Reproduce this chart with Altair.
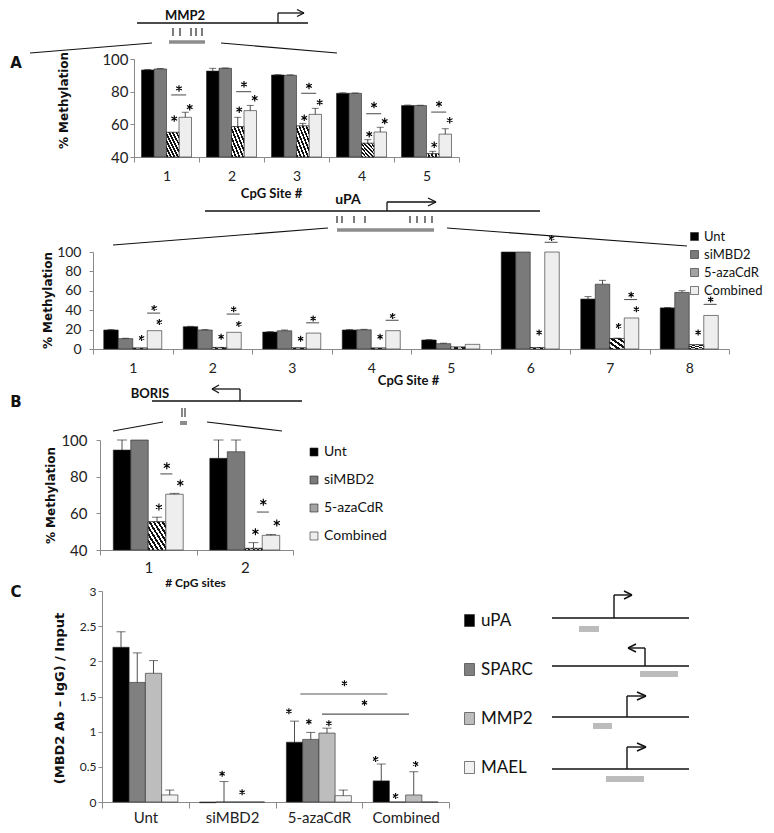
import altair as alt
import pandas as pd

CHART_W, CHART_H = 758, 817
MARGIN = 8

GROUPS = ["Unt", "siMBD2", "5-azaCdR", "Combined"]
GROUP_FILL = ["#000000", "#7a7a7a", "#a3a3a3", "#eeeeee"]

# ---------------- Panel A : MMP2 ----------------
A_SITES = ["1", "2", "3", "4", "5"]
A_UNT = [93.3, 92.6, 90.2, 79.0, 71.5]
A_SI = [93.9, 94.3, 90.0, 79.0, 71.5]
A_AZA = [55.1, 58.6, 59.0, 48.4, 42.0]
A_COMB = [64.3, 68.4, 66.1, 55.3, 54.0]
A_UNT_ERR = [0.3, 1.7, 0.2, 0.3, 0.3]
A_SI_ERR = [0.3, 0.2, 0.3, 0.2, 0.2]
A_AZA_ERR = [0.0, 5.7, 1.6, 2.2, 1.5]
A_COMB_ERR = [3.1, 3.2, 3.7, 2.9, 3.3]
A_STAR_SITE = ["1", "1", "2", "2", "3", "3", "4", "4", "5", "5"]
A_STAR_GROUP = ["5-azaCdR", "Combined"] * 5
A_STAR_Y = [63.5, 70.5, 69.0, 76.0, 64.0, 73.5, 54.0, 62.0, 47.5, 62.5]
A_BR_Y = [78.0, 80.0, 79.0, 66.5, 67.5]
A_BR_STAR_Y = [82.0, 84.5, 83.5, 71.8, 72.5]

# ---------------- uPA ----------------
U_SITES = ["1", "2", "3", "4", "5", "6", "7", "8"]
U_UNT = [19.6, 23.0, 17.5, 19.6, 9.3, 100, 51.5, 42.4]
U_SI = [10.7, 19.6, 18.8, 19.8, 5.5, 100, 66.8, 58.3]
U_AZA = [1.0, 1.6, 1.2, 1.0, 2.0, 1.5, 10.8, 4.4]
U_COMB = [18.9, 17.2, 16.4, 18.9, 4.8, 100, 32.0, 34.6]
U_UNT_ERR = [0.4, 0.4, 0.4, 0.4, 0.4, 0.0, 2.5, 0.4]
U_SI_ERR = [0.4, 0.4, 0.8, 0.5, 0.5, 0.0, 4.0, 1.8]
U_AZA_ERR = [0.0, 0.0, 0.0, 0.0, 0.0, 0.0, 0.4, 0.0]
U_COMB_ERR = [0.0, 0.0, 0.0, 0.0, 0.0, 0.0, 0.0, 0.0]
U_STAR_SITE = ["1", "1", "2", "2", "3", "4", "6", "7", "7", "8"]
U_STAR_GROUP = ["5-azaCdR", "Combined", "5-azaCdR", "Combined", "5-azaCdR",
                "5-azaCdR", "5-azaCdR", "5-azaCdR", "Combined", "5-azaCdR"]
U_STAR_Y = [11.3, 27.8, 12.7, 25.8, 10.5, 12.7, 17.0, 23.7, 41.0, 17.0]
U_BR_SITE = ["1", "2", "3", "4", "6", "7", "8"]
U_BR_Y = [37.0, 36.0, 27.0, 29.6, 110.0, 51.0, 46.0]
U_BR_STAR_Y = [42.3, 41.0, 31.5, 34.0, 114.5, 56.0, 51.0]

# ---------------- Panel B : BORIS ----------------
B_SITES = ["1", "2"]
B_UNT = [94.5, 90.0]
B_SI = [100.0, 93.6]
B_AZA = [55.4, 40.9]
B_COMB = [70.4, 48.0]
B_UNT_ERR = [5.5, 10.0]
B_SI_ERR = [0.0, 6.4]
B_AZA_ERR = [2.5, 3.1]
B_COMB_ERR = [0.5, 0.5]
B_STAR_SITE = ["1", "1", "2", "2"]
B_STAR_GROUP = ["5-azaCdR", "Combined", "5-azaCdR", "Combined"]
B_STAR_Y = [63.5, 76.5, 50.0, 54.7]
B_BR_Y = [81.5, 60.7]
B_BR_STAR_Y = [86.0, 66.0]

# ---------------- Panel C : ChIP ----------------
C_TREAT = ["Unt", "siMBD2", "5-azaCdR", "Combined"]
GENES = ["uPA", "SPARC", "MMP2", "MAEL"]
GENE_FILL = ["#000000", "#808080", "#bdbdbd", "#f2f2f2"]
C_UPA = [2.20, -0.01, 0.85, 0.30]
C_SPARC = [1.70, 0.0, 0.89, 0.0]
C_MMP2 = [1.83, 0.0, 0.98, 0.10]
C_MAEL = [0.10, 0.0, 0.09, 0.0]
C_UPA_ERR = [0.22, 0.0, 0.30, 0.24]
C_SPARC_ERR = [0.42, 0.29, 0.10, 0.0]
C_MMP2_ERR = [0.18, 0.0, 0.07, 0.33]
C_MAEL_ERR = [0.07, 0.0, 0.08, 0.0]
C_STAR_TREAT = ["siMBD2", "siMBD2", "5-azaCdR", "5-azaCdR", "5-azaCdR",
                "Combined", "Combined", "Combined"]
C_STAR_GENE = ["SPARC", "MMP2", "uPA", "SPARC", "MMP2", "uPA", "SPARC", "MMP2"]
C_STAR_Y = [0.40, 0.14, 1.29, 1.14, 1.12, 0.61, 0.085, 0.54]
C_BR1_Y, C_BR1_STAR_Y = [1.535], [1.69]
C_BR2_Y, C_BR2_STAR_Y = [1.25], [1.41]

# ---------------- gene schematics (page pixel units) ----------------
INK, GREY_A, GREY_C = "#111111", "#8c8c8c", "#bcbcbc"
A_DIAGRAM = [
    (137, 23, 308, 23, 1.3, INK), (278, 23, 278, 13, 1.3, INK), (278, 13, 304, 13, 1.3, INK),
    (297, 9.5, 304, 13, 1.3, INK), (297, 16.5, 304, 13, 1.3, INK),
    (173, 28, 173, 36, 1.1, INK), (180, 28, 180, 36, 1.1, INK), (191, 28, 191, 36, 1.1, INK),
    (196, 28, 196, 36, 1.1, INK), (202, 28, 202, 36, 1.1, INK),
    (169, 42, 205, 42, 3.5, GREY_A),
    (30, 53, 152, 43, 1.1, INK), (221, 43, 337, 53, 1.1, INK),
]
U_DIAGRAM = [
    (205, 211, 540, 211, 1.3, INK), (387, 211, 387, 202, 1.3, INK), (387, 202, 436, 202, 1.3, INK),
    (428, 198, 436, 202, 1.3, INK), (428, 206, 436, 202, 1.3, INK),
    (337, 216, 337, 223, 1.1, INK), (342, 216, 342, 223, 1.1, INK), (354, 216, 354, 223, 1.1, INK),
    (365, 216, 365, 223, 1.1, INK), (410, 216, 410, 223, 1.1, INK), (417, 216, 417, 223, 1.1, INK),
    (425, 216, 425, 223, 1.1, INK), (432, 216, 432, 223, 1.1, INK),
    (337, 230, 434, 230, 3.5, GREY_A),
    (113, 245, 328, 228, 1.1, INK), (447, 228, 687, 246, 1.1, INK),
]
B_DIAGRAM = [
    (152, 401, 302, 401, 1.3, INK), (240, 401, 240, 389, 1.3, INK), (240, 389, 212, 389, 1.3, INK),
    (219, 385, 212, 389, 1.3, INK), (219, 393, 212, 389, 1.3, INK),
    (182, 408, 182, 417, 1.0, INK), (185, 408, 185, 417, 1.0, INK),
    (180, 423, 187, 423, 4.0, GREY_A),
    (113, 431, 163, 422, 1.1, INK), (207, 422, 282, 431, 1.1, INK),
]
C_DIAGRAM = [
    (552, 618, 689, 618, 1.4, INK), (614, 618, 614, 595, 1.4, INK), (614, 595, 631, 595, 1.4, INK),
    (624, 591, 632, 595, 1.4, INK), (624, 599, 632, 595, 1.4, INK), (579, 629, 599, 629, 6, GREY_C),
    (552, 666, 689, 666, 1.4, INK), (645, 666, 645, 648, 1.4, INK), (645, 648, 629, 648, 1.4, INK),
    (636, 644, 628, 648, 1.4, INK), (636, 652, 628, 648, 1.4, INK), (640, 674, 678, 674, 6, GREY_C),
    (552, 717, 689, 717, 1.4, INK), (627, 717, 627, 696, 1.4, INK), (627, 696, 645, 696, 1.4, INK),
    (637, 692, 646, 696, 1.4, INK), (637, 700, 646, 696, 1.4, INK), (593, 726, 612, 726, 6, GREY_C),
    (552, 769, 689, 769, 1.4, INK), (627, 769, 627, 747, 1.4, INK), (627, 747, 645, 747, 1.4, INK),
    (637, 743, 646, 747, 1.4, INK), (637, 751, 646, 747, 1.4, INK), (606, 779, 644, 779, 6, GREY_C),
]
GENE_NAMES = [("MMP2", 185, 16, 13), ("uPA", 348, 200, 14), ("BORIS", 150, 394, 13)]
PANEL_LETTERS = [("A", 16, 63), ("B", 16, 402), ("C", 16, 592)]

ASTERISK = "M0,-1L0,1M-0.87,-0.5L0.87,0.5M-0.87,0.5L0.87,-0.5"
N_SLOTS = 40
SLOTS = [str(i) for i in range(N_SLOTS)]


def px(v):
    return v - MARGIN


def slot_of(frac):
    return str(int(round(frac * N_SLOTS - 0.5)))


def stripes(n):
    stops = []
    for i in range(n):
        a, b, c = i / n, (i + 0.5) / n, (i + 1) / n
        stops += [alt.GradientStop(color="#111111", offset=a), alt.GradientStop(color="#111111", offset=b),
                  alt.GradientStop(color="#ffffff", offset=b), alt.GradientStop(color="#ffffff", offset=c)]
    return alt.LinearGradient(gradient="linear", stops=stops, x1=0, y1=1, x2=1, y2=0)


AX_COMMON = dict(domainColor="#8a8a8a", tickColor="#8a8a8a", labelColor="#222222",
                 labelFont="Lato", grid=False)


def bar_panel(cats, subs, fills, series, errs, box, ydom, p_out, stars, brackets,
              yaxis, xaxis, legend, star_px, cap, hatch_n=None):
    L, T, W, H = box
    rows = []
    for sub, vals, es in zip(subs, series, errs):
        for c, v, e in zip(cats, vals, es):
            rows.append({"cat": c, "sub": sub, "value": v, "err": e, "top": v + e})
    df = pd.DataFrame(rows)

    def X(**kw):
        return alt.X("cat:N", scale=alt.Scale(domain=cats, range=[px(L), px(L + W)],
                                              paddingInner=0, paddingOuter=0), **kw)

    def XO():
        return alt.XOffset("sub:N", scale=alt.Scale(domain=subs, paddingInner=0, paddingOuter=p_out))

    def XS():
        return alt.XOffset("slot:N", scale=alt.Scale(domain=SLOTS, paddingInner=0, paddingOuter=0))

    def Y(field, **kw):
        return alt.Y(field, scale=alt.Scale(domain=ydom, range=[px(T + H), px(T)], nice=False,
                                            zero=False), **kw)

    def star_mark(chart):
        return chart.mark_point(shape=ASTERISK, filled=False, color="#000000", opacity=1,
                                strokeWidth=1.15, size=star_px ** 2)

    layers = [alt.Chart(df).mark_bar(stroke="#262626", strokeWidth=0.6).encode(
        x=X(axis=alt.Axis(**AX_COMMON, **xaxis)),
        xOffset=XO(),
        y=Y("value:Q", axis=alt.Axis(**AX_COMMON, **yaxis)),
        y2=alt.datum(ydom[0]),
        color=alt.Color("sub:N", scale=alt.Scale(domain=subs, range=fills), legend=legend),
    )]
    if hatch_n:
        layers.append(alt.Chart(df).transform_filter(alt.datum.sub == "5-azaCdR").mark_bar(
            fill=stripes(hatch_n), stroke="#262626", strokeWidth=0.6).encode(
            x=X(axis=None), xOffset=XO(), y=Y("value:Q", axis=None), y2=alt.datum(ydom[0])))
    eb = alt.Chart(df).transform_filter(alt.datum.err > 0)
    layers.append(eb.mark_rule(color="#222222", strokeWidth=0.8).encode(
        x=X(axis=None), xOffset=XO(), y=Y("value:Q", axis=None), y2="top:Q"))
    layers.append(eb.mark_tick(color="#222222", thickness=0.9, size=cap, orient="horizontal").encode(
        x=X(axis=None), xOffset=XO(), y=Y("top:Q", axis=None)))
    s_cat, s_sub, s_y = stars
    sdf = pd.DataFrame({"cat": s_cat, "sub": s_sub, "y": s_y})
    layers.append(star_mark(alt.Chart(sdf)).encode(
        x=X(axis=None), xOffset=XO(), y=Y("y:Q", axis=None)))
    for br in brackets:
        bdf = pd.DataFrame({"cat": br["cats"], "y": br["y"], "sy": br["sy"]})
        bdf["slot"] = slot_of(br["pos"])
        layers.append(alt.Chart(bdf).mark_tick(color="#111111", thickness=1.1, size=br["len"],
                                               orient="horizontal").encode(
            x=X(axis=None), xOffset=XS(), y=Y("y:Q", axis=None)))
        layers.append(star_mark(alt.Chart(bdf)).encode(
            x=X(axis=None), xOffset=XS(), y=Y("sy:Q", axis=None)))
    return layers


def left_axis(box, values, label_size, pad, title, title_x, title_y, title_size=12, fmt=None):
    L = box[0]
    d = dict(orient="left", offset=-px(L), values=values, labelFontSize=label_size, tickSize=4,
             labelPadding=pad, title=title, titleX=title_x - L, titleY=px(title_y),
             titleFont="DejaVu Sans", titleFontWeight="bold", titleFontSize=title_size,
             titleColor="#111111", titleAlign="center", titleBaseline="middle", titleAngle=-90)
    if fmt:
        d["format"] = fmt
    return d


def bottom_axis(box, label_size, tick, pad, title=None, title_x=0, title_y=0, title_size=13):
    L, T, W, H = box
    d = dict(orient="bottom", offset=px(T + H) - CHART_H, tickBand="extent", labelAngle=0,
             labelFontSize=label_size, tickSize=tick, labelPadding=pad)
    if title:
        d.update(title=title, titleX=px(title_x), titleY=title_y - (T + H), titleFont="Lato",
                 titleFontWeight="bold", titleFontSize=title_size, titleColor="#111111",
                 titleAlign="center", titleBaseline="middle")
    else:
        d["title"] = None
    return d


def legend(x, y, size, row_pad, sym_size, shape="square"):
    return alt.Legend(orient="none", legendX=px(x), legendY=px(y), title=None, labelFont="Lato",
                      labelFontSize=size, labelColor="#111111", symbolType=shape, symbolSize=sym_size,
                      symbolStrokeColor="#262626", symbolStrokeWidth=0.6, rowPadding=row_pad,
                      labelOffset=3, padding=0)


# ---- panel A
A_BOX = (134, 59, 325, 98)
panel_a = bar_panel(
    A_SITES, GROUPS, GROUP_FILL, [A_UNT, A_SI, A_AZA, A_COMB],
    [A_UNT_ERR, A_SI_ERR, A_AZA_ERR, A_COMB_ERR], A_BOX, [40, 100], 0.6,
    (A_STAR_SITE, A_STAR_GROUP, A_STAR_Y),
    [{"pos": 0.692, "len": 15, "cats": A_SITES, "y": A_BR_Y, "sy": A_BR_STAR_Y}],
    left_axis(A_BOX, [40, 60, 80, 100], 15, 2, "% Methylation", 63, 100),
    bottom_axis(A_BOX, 14, 5, 7, "CpG Site #", 271, 193),
    None, 6.5, 7, hatch_n=7)

# ---- uPA
U_BOX = (93, 252, 636, 97)
panel_u = bar_panel(
    U_SITES, GROUPS, GROUP_FILL, [U_UNT, U_SI, U_AZA, U_COMB],
    [U_UNT_ERR, U_SI_ERR, U_AZA_ERR, U_COMB_ERR], U_BOX, [0, 100], 0.74,
    (U_STAR_SITE, U_STAR_GROUP, U_STAR_Y),
    [{"pos": 0.774, "len": 13, "cats": U_BR_SITE, "y": U_BR_Y, "sy": U_BR_STAR_Y}],
    left_axis(U_BOX, [0, 20, 40, 60, 80, 100], 14, 8, "% Methylation", 47, 300),
    bottom_axis(U_BOX, 14, 5, 7, "CpG Site #", 408, 380),
    legend(688, 230, 13, 4, 64), 6, 7, hatch_n=4)

# ---- B
B_BOX = (100, 440, 193, 110)
panel_b = bar_panel(
    B_SITES, GROUPS, GROUP_FILL, [B_UNT, B_SI, B_AZA, B_COMB],
    [B_UNT_ERR, B_SI_ERR, B_AZA_ERR, B_COMB_ERR], B_BOX, [40, 100], 0.76,
    (B_STAR_SITE, B_STAR_GROUP, B_STAR_Y),
    [{"pos": 0.681, "len": 12, "cats": B_SITES, "y": B_BR_Y, "sy": B_BR_STAR_Y}],
    left_axis(B_BOX, [40, 60, 80, 100], 15, 9, "% Methylation", 50, 495),
    bottom_axis(B_BOX, 15, 5, 5, "# CpG sites", 195, 582, 12),
    legend(307, 445, 14, 14, 64), 7, 10, hatch_n=8)

# ---- C
C_BOX = (102, 591, 347, 211)
panel_c = bar_panel(
    C_TREAT, GENES, GENE_FILL, [C_UPA, C_SPARC, C_MMP2, C_MAEL],
    [C_UPA_ERR, C_SPARC_ERR, C_MMP2_ERR, C_MAEL_ERR], C_BOX, [0, 3], 0.67,
    (C_STAR_TREAT, C_STAR_GENE, C_STAR_Y),
    [{"pos": 0.785, "len": 87, "cats": ["5-azaCdR"], "y": C_BR1_Y, "sy": C_BR1_STAR_Y},
     {"pos": 0.04, "len": 87, "cats": ["Combined"], "y": C_BR2_Y, "sy": C_BR2_STAR_Y}],
    left_axis(C_BOX, [0, 0.5, 1, 1.5, 2, 2.5, 3], 12, 2, "(MBD2 Ab \u2013 IgG) / Input", 59, 698,
              13, fmt=".1~f"),
    bottom_axis(C_BOX, 15, 6, 2),
    legend(461, 612, 17, 31, 144, "M-0.83,-1H0.83V1H-0.83Z"), 6, 9)

# ---- schematics
seg_df = pd.DataFrame(A_DIAGRAM + U_DIAGRAM + B_DIAGRAM + C_DIAGRAM,
                      columns=["x1", "y1", "x2", "y2", "w", "c"])
dx = alt.Scale(domain=[MARGIN, MARGIN + CHART_W], range=[0, CHART_W], zero=False, nice=False)
dy = alt.Scale(domain=[MARGIN, MARGIN + CHART_H], range=[0, CHART_H], zero=False, nice=False)
segs = alt.Chart(seg_df).mark_rule(strokeCap="butt").encode(
    x=alt.X("x1:Q", scale=dx, axis=None), y=alt.Y("y1:Q", scale=dy, axis=None),
    x2="x2:Q", y2="y2:Q",
    strokeWidth=alt.StrokeWidth("w:Q", scale=None), color=alt.Color("c:N", scale=None))
gene_df = pd.DataFrame(GENE_NAMES, columns=["t", "x", "y", "s"])
genes = alt.Chart(gene_df).mark_text(font="Lato", fontWeight="bold", color="#111111",
                                     baseline="middle").encode(
    x=alt.X("x:Q", scale=dx, axis=None), y=alt.Y("y:Q", scale=dy, axis=None),
    text="t:N", size=alt.Size("s:Q", scale=None))
let_df = pd.DataFrame(PANEL_LETTERS, columns=["t", "x", "y"])
letters = alt.Chart(let_df).mark_text(font="DejaVu Sans", fontWeight="bold", fontSize=15,
                                      color="#111111").encode(
    x=alt.X("x:Q", scale=dx, axis=None), y=alt.Y("y:Q", scale=dy, axis=None), text="t:N")

all_layers = panel_a + panel_u + panel_b + panel_c + [segs, genes, letters]
chart = alt.layer(*all_layers).resolve_scale(
    x="independent", y="independent", xOffset="independent", color="independent"
).properties(
    width=CHART_W, height=CHART_H, autosize=alt.AutoSizeParams(type="none"), padding=0
).configure_view(stroke=None)

chart.save("out.html", embed_options={"renderer": "svg", "actions": False})
